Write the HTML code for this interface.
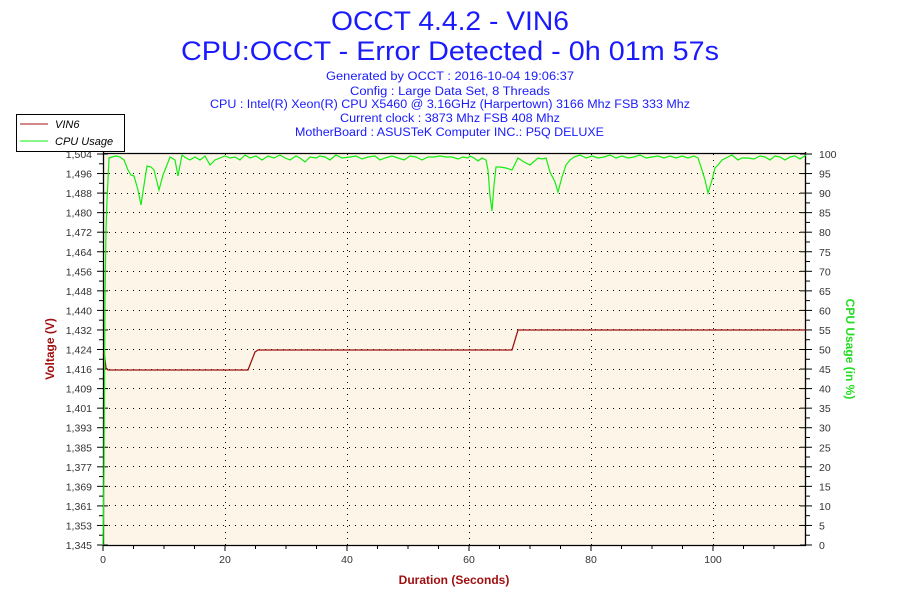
<!DOCTYPE html>
<html><head><meta charset="utf-8"><style>
body{margin:0;background:#fff;width:900px;height:600px;overflow:hidden;font-family:"Liberation Sans",sans-serif}
</style></head><body>
<svg width="900" height="600" xmlns="http://www.w3.org/2000/svg" font-family="Liberation Sans, sans-serif">
<rect width="900" height="600" fill="#fff"/>
<text x="331" y="30" textLength="238" lengthAdjust="spacingAndGlyphs" font-size="27" fill="#1a1aff">OCCT 4.4.2 - VIN6</text>
<text x="181" y="60" textLength="538" lengthAdjust="spacingAndGlyphs" font-size="27" fill="#1a1aff">CPU:OCCT - Error Detected - 0h 01m 57s</text>
<g font-size="11.5" fill="#1a1aff">
<text x="326" y="80" textLength="248" lengthAdjust="spacingAndGlyphs">Generated by OCCT : 2016-10-04 19:06:37</text>
<text x="350" y="95" textLength="200" lengthAdjust="spacingAndGlyphs">Config : Large Data Set, 8 Threads</text>
<text x="210" y="108" textLength="480" lengthAdjust="spacingAndGlyphs">CPU : Intel(R) Xeon(R) CPU X5460 @ 3.16GHz (Harpertown) 3166 Mhz FSB 333 Mhz</text>
<text x="340" y="122" textLength="220" lengthAdjust="spacingAndGlyphs">Current clock : 3873 Mhz FSB 408 Mhz</text>
<text x="295" y="136" textLength="309" lengthAdjust="spacingAndGlyphs">MotherBoard : ASUSTeK Computer INC.: P5Q DELUXE</text>
</g>
<rect x="103" y="154" width="703" height="391" fill="#fdf6e8"/>
<g id="grid" stroke="#000" stroke-width="1" stroke-dasharray="1,5">
<line x1="103" x2="806" y1="173.5" y2="173.5"/><line x1="103" x2="806" y1="193.5" y2="193.5"/><line x1="103" x2="806" y1="212.5" y2="212.5"/><line x1="103" x2="806" y1="232.5" y2="232.5"/><line x1="103" x2="806" y1="251.5" y2="251.5"/><line x1="103" x2="806" y1="271.5" y2="271.5"/><line x1="103" x2="806" y1="290.5" y2="290.5"/><line x1="103" x2="806" y1="310.5" y2="310.5"/><line x1="103" x2="806" y1="329.5" y2="329.5"/><line x1="103" x2="806" y1="349.5" y2="349.5"/><line x1="103" x2="806" y1="369.5" y2="369.5"/><line x1="103" x2="806" y1="388.5" y2="388.5"/><line x1="103" x2="806" y1="408.5" y2="408.5"/><line x1="103" x2="806" y1="427.5" y2="427.5"/><line x1="103" x2="806" y1="447.5" y2="447.5"/><line x1="103" x2="806" y1="466.5" y2="466.5"/><line x1="103" x2="806" y1="486.5" y2="486.5"/><line x1="103" x2="806" y1="505.5" y2="505.5"/><line x1="103" x2="806" y1="525.5" y2="525.5"/>
<line x1="225.5" x2="225.5" y1="154" y2="545"/><line x1="347.5" x2="347.5" y1="154" y2="545"/><line x1="469.5" x2="469.5" y1="154" y2="545"/><line x1="591.5" x2="591.5" y1="154" y2="545"/><line x1="713.5" x2="713.5" y1="154" y2="545"/>
</g>
<g stroke="#000" stroke-width="1.3" fill="none">
<line x1="103.5" y1="152" x2="103.5" y2="546"/><line x1="805.5" y1="152" x2="805.5" y2="546"/>
<line x1="103" y1="545.5" x2="806" y2="545.5"/><line x1="103" y1="153.5" x2="806" y2="153.5"/>
</g>
<g stroke="#000" stroke-width="1" id="ticks"></g>
<g font-size="10.5" fill="#333" text-anchor="end" id="ly"></g>
<g font-size="10.5" fill="#333" text-anchor="start" id="ry"></g>
<g font-size="10.5" fill="#333" text-anchor="middle">
<text x="103" y="563">0</text><text x="225" y="563">20</text><text x="347" y="563">40</text><text x="469" y="563">60</text><text x="591" y="563">80</text><text x="713" y="563">100</text>
</g>
<text x="454" y="584" text-anchor="middle" font-size="12" font-weight="bold" fill="#a01010">Duration (Seconds)</text>
<text transform="translate(54,349) rotate(-90)" text-anchor="middle" font-size="12" font-weight="bold" fill="#a01010">Voltage (V)</text>
<text transform="translate(846,349) rotate(90)" text-anchor="middle" font-size="12" font-weight="bold" fill="#22dd22">CPU Usage (in %)</text>
<polyline fill="none" stroke="#a01010" stroke-width="1.3" points="104,352 106,368 108,370 248,370 255,352 258,350 512,350 518,330 806,330"/>
<polyline fill="none" stroke="#11ee11" stroke-width="1.2" points="103,545 104,470 105,300 106,230 107,200 108,180 109,158 112,157 116,156 120,157 124,160 128,170 131,175 134,176 138,190 141,205 144,185 147,166 151,167 154,170 159,190 163,175 167,165 170,157 175,160 178,176 182,155 186,158 190,160 195,157 200,160 205,156 210,165 215,160 220,158 225,156 230,158 235,157 240,160 245,155 250,158 256,156 262,160 268,156 274,158 280,155 285,158 290,160 296,156 300,158 305,162 310,157 316,158 320,156 325,157 330,160 336,155 342,158 350,157 356,156 362,159 368,157 375,156 380,160 385,158 392,156 398,158 404,160 410,156 416,157 422,160 428,157 434,157 440,156 446,157 452,157 458,159 463,157 468,158 470,156 474,158 478,161 482,158 486,160 488,170 490,196 492,211 494,185 496,167 500,167 506,168 512,170 518,158 524,162 530,165 538,158 542,159 546,158 550,172 555,182 558,192 562,177 566,165 570,160 574,157 580,155 586,158 592,156 598,158 604,157 610,155 616,158 622,156 628,158 634,157 640,155 646,158 652,157 658,156 664,158 670,156 676,158 682,156 688,158 694,156 698,158 702,170 705,180 708,193 712,180 715,168 718,165 722,160 726,158 732,155 738,160 742,158 748,158 754,159 760,156 765,157 770,160 775,156 780,157 785,160 790,157 795,156 800,159 806,155"/>
<rect x="16.5" y="114.5" width="108" height="37" fill="#fff" stroke="#000"/>
<line x1="20" y1="124" x2="48" y2="124" stroke="#a01010"/>
<line x1="20" y1="141" x2="48" y2="141" stroke="#11ee11"/>
<text x="55" y="128" font-size="11" font-style="italic" fill="#000">VIN6</text>
<text x="55" y="145" font-size="11" font-style="italic" fill="#000">CPU Usage</text>
<script>
var t=document.getElementById('ticks'),ly=document.getElementById('ly'),ry=document.getElementById('ry'),ns='http://www.w3.org/2000/svg';
function el(p,n,a,tx){var e=document.createElementNS(ns,n);for(var k in a)e.setAttribute(k,a[k]);if(tx)e.textContent=tx;p.appendChild(e);}
var lv=['1,345','1,353','1,361','1,369','1,377','1,385','1,393','1,401','1,409','1,416','1,424','1,432','1,440','1,448','1,456','1,464','1,472','1,480','1,488','1,496','1,504'];
for(var i=0;i<=20;i++){var y=545-i*19.55;
el(t,'line',{x1:97,x2:108,y1:y,y2:y});el(t,'line',{x1:800,x2:812,y1:y,y2:y});
if(i<20){var h=y-9.78;el(t,'line',{x1:99,x2:104,y1:h,y2:h});el(t,'line',{x1:806,x2:810,y1:h,y2:h});}
el(ly,'text',{x:92,y:y+4},lv[i]);el(ry,'text',{x:819,y:y+4},String(i*5));}
for(var s=0;s<=114;s+=5){var x=103+s*6.1;el(t,'line',{x1:x,x2:x,y1:545,y2:s%20==0?551:549});}
</script>
</svg>
</body></html>
